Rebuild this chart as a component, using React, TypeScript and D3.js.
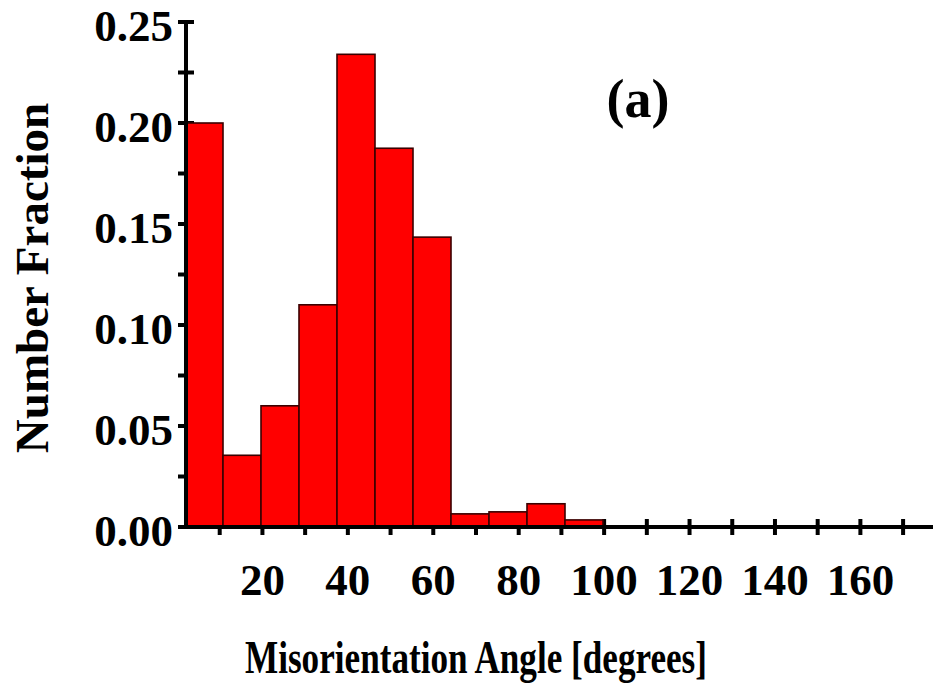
import React, { useEffect, useRef } from 'react';
import * as d3 from 'd3';

// histogram bins (degrees) and number fraction per bin
const bins = ['0-10', '10-20', '20-30', '30-40', '40-50', '50-60', '60-70', '70-80', '80-90', '90-100', '100-110'];
const fractions = [0.200, 0.0355, 0.060, 0.110, 0.234, 0.1875, 0.1435, 0.0065, 0.0075, 0.0115, 0.0035];

const xTickValues = [10, 20, 30, 40, 50, 60, 70, 80, 90, 100, 110, 120, 130, 140, 150, 160, 170];
const xTickLabels = [20, 40, 60, 80, 100, 120, 140, 160];
const yTickValues = [0, 0.025, 0.05, 0.075, 0.1, 0.125, 0.15, 0.175, 0.2, 0.225, 0.25];
const yTickLabels = [0, 0.05, 0.1, 0.15, 0.2, 0.25];

const W = 933;
const H = 688;
const FONT = '"Liberation Serif", "Times New Roman", serif';

function Histogram() {
  const ref = useRef<SVGSVGElement>(null);

  useEffect(() => {
    const svg = d3.select(ref.current);
    svg.selectAll('*').remove();

    const axisX = 186;
    const axisY = 527;

    const yScale = d3.scaleLinear().domain([0, 0.25]).range([axisY, 22]);
    // axis ticks/labels scale (degrees)
    const xScale = d3.scaleLinear().domain([0, 177]).range([177, W]);
    // bars scale: one band per bin
    const barScale = d3.scaleBand().domain(bins).range([185, 185 + 38 * bins.length]).padding(0);

    // x ticks first so the bars cover them
    svg.append('g')
      .selectAll('line')
      .data(xTickValues)
      .enter()
      .append('line')
      .attr('x1', (d) => xScale(d))
      .attr('x2', (d) => xScale(d))
      .attr('y1', axisY - 8)
      .attr('y2', axisY + 8)
      .attr('stroke', '#000')
      .attr('stroke-width', 4);

    svg.append('g')
      .selectAll('line')
      .data(yTickValues)
      .enter()
      .append('line')
      .attr('x1', axisX - 8)
      .attr('x2', axisX + 8)
      .attr('y1', (d) => yScale(d))
      .attr('y2', (d) => yScale(d))
      .attr('stroke', '#000')
      .attr('stroke-width', 4);

    svg.append('g')
      .selectAll('rect')
      .data(fractions)
      .enter()
      .append('rect')
      .attr('x', (d, i) => barScale(bins[i]))
      .attr('y', (d) => yScale(d))
      .attr('width', barScale.bandwidth())
      .attr('height', (d) => axisY - yScale(d))
      .attr('fill', '#ff0000')
      .attr('stroke', '#3a0000')
      .attr('stroke-width', 1.6);

    // axis lines
    svg.append('line')
      .attr('x1', axisX)
      .attr('x2', axisX)
      .attr('y1', yScale(0.25))
      .attr('y2', axisY + 2)
      .attr('stroke', '#000')
      .attr('stroke-width', 4);

    svg.append('line')
      .attr('x1', axisX - 2)
      .attr('x2', W)
      .attr('y1', axisY)
      .attr('y2', axisY)
      .attr('stroke', '#000')
      .attr('stroke-width', 4);

    svg.append('g')
      .selectAll('text')
      .data(yTickLabels)
      .enter()
      .append('text')
      .attr('x', 173)
      .attr('y', (d) => yScale(d))
      .attr('dy', '0.42em')
      .attr('text-anchor', 'end')
      .attr('font-family', FONT)
      .attr('font-weight', 'bold')
      .attr('font-size', 45)
      .text((d) => d.toFixed(2));

    svg.append('g')
      .selectAll('text')
      .data(xTickLabels)
      .enter()
      .append('text')
      .attr('x', (d) => xScale(d))
      .attr('y', 595)
      .attr('text-anchor', 'middle')
      .attr('font-family', FONT)
      .attr('font-weight', 'bold')
      .attr('font-size', 45)
      .text((d) => `${d}`);

    svg.append('text')
      .attr('transform', 'translate(48, 278) rotate(-90)')
      .attr('text-anchor', 'middle')
      .attr('font-family', FONT)
      .attr('font-weight', 'bold')
      .attr('font-size', 47)
      .text('Number Fraction');

    svg.append('text')
      .attr('x', 245)
      .attr('y', 673)
      .attr('textLength', 462)
      .attr('lengthAdjust', 'spacingAndGlyphs')
      .attr('font-family', FONT)
      .attr('font-weight', 'bold')
      .attr('font-size', 46)
      .text('Misorientation Angle [degrees]');

    svg.append('text')
      .attr('x', 638)
      .attr('y', 117)
      .attr('text-anchor', 'middle')
      .attr('font-family', FONT)
      .attr('font-weight', 'bold')
      .attr('font-size', 54)
      .text('(a)');
  }, []);

  return (
    <svg
      ref={ref}
      width={W}
      height={H}
      style={{ position: 'absolute', left: 0, top: 0, background: '#fff' }}
    />
  );
}

export default function App() {
  return <Histogram />;
}
